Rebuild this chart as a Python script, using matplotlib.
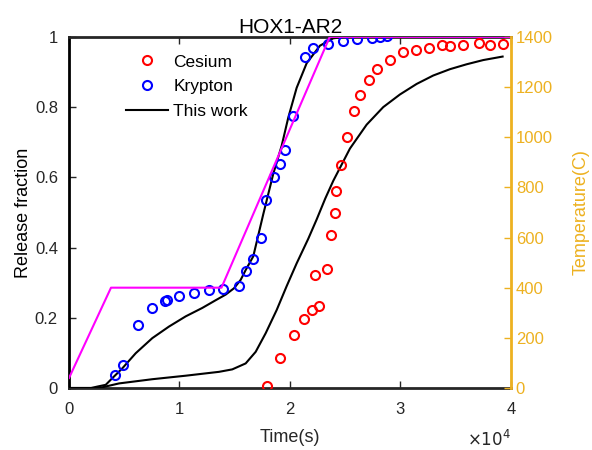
import numpy as np
import matplotlib.pyplot as plt
from matplotlib import rc

rc('font', family='Liberation Sans', size=12)

# datos
t_cs = [17891, 19122, 20362, 21240, 21964, 22597, 22235, 23321, 23756, 24118,
        24163, 24588, 25131, 25819, 26335, 27122, 27900, 29050, 30199, 31403,
        32579, 33783, 34480, 35656, 37104, 38100, 39249]
f_cs = [0.006, 0.085, 0.150, 0.197, 0.222, 0.234, 0.322, 0.338, 0.436, 0.498,
        0.562, 0.635, 0.716, 0.790, 0.835, 0.877, 0.909, 0.934, 0.956, 0.962,
        0.969, 0.976, 0.973, 0.976, 0.982, 0.978, 0.980]

t_kr = [4190, 4914, 6217, 7511, 8715, 8896, 9982, 11312, 12697, 13964,
        15385, 16018, 16679, 17348, 17801, 18525, 19122, 19575, 20299, 21357,
        22109, 23466, 24769, 26090, 27394, 28145, 28805]
f_kr = [0.038, 0.065, 0.180, 0.228, 0.247, 0.251, 0.262, 0.271, 0.279, 0.281,
        0.291, 0.332, 0.367, 0.427, 0.536, 0.602, 0.639, 0.679, 0.775, 0.942,
        0.968, 0.980, 0.989, 0.994, 0.998, 0.999, 1.003]

# modelo (this work), trazado de la figura
t_m1 = [0, 2000, 2561, 3321, 3919, 4824, 6036, 7538, 9050, 10561, 12063,
        13276, 14181, 14932, 15538, 15991, 16679, 17584, 18489, 19249, 19846,
        20606, 21511, 22715, 23919, 25000, 40000]
f_m1 = [0, 0, 0.004, 0.009, 0.028, 0.056, 0.099, 0.142, 0.175, 0.204, 0.228,
        0.250, 0.266, 0.284, 0.308, 0.336, 0.375, 0.495, 0.610, 0.690, 0.770,
        0.855, 0.925, 0.975, 0.996, 1.0, 1.0]

t_m2 = [0, 2500, 3014, 4525, 7538, 10561, 13575, 14778, 15991, 16896, 17801,
        18796, 19700, 20606, 21656, 22416, 23200, 23919, 25430, 26941, 28443,
        29955, 31466, 32968, 34480, 35991, 37493, 39249]
f_m2 = [0, 0, 0.002, 0.013, 0.025, 0.035, 0.046, 0.053, 0.070, 0.103, 0.156,
        0.222, 0.290, 0.355, 0.425, 0.480, 0.540, 0.590, 0.682, 0.750, 0.800,
        0.836, 0.866, 0.890, 0.908, 0.922, 0.934, 0.944]

t_temp = [0, 3800, 13800, 23600, 40000]
temp = [40, 400, 400, 1400, 1400]

naranja = '#EDB120'
gris = '#262626'

fig = plt.figure(figsize=(5.92, 4.5), dpi=100)
ax = fig.add_axes([0.1166, 0.1378, 0.7464, 0.7802])
ax2 = ax.twinx()

ax.plot(t_cs, f_cs, 'o', mfc='none', mec='r', ms=6.5, mew=1.5, label='Cesium', zorder=4)
ax.plot(t_kr, f_kr, 'o', mfc='none', mec='b', ms=6.5, mew=1.5, label='Krypton', zorder=4)
ax.plot(t_m1, f_m1, 'k-', lw=1.5, label='This work', zorder=3)
ax.plot(t_m2, f_m2, 'k-', lw=1.5, zorder=3)

ax2.plot(t_temp, temp, '-', color='#FF00FF', lw=1.5)
ax2.set_ylim(0, 1400)
ax2.set_yticks(np.arange(0, 1401, 200))
ax2.set_ylabel('Temperature(C)', color=naranja, fontsize=13, labelpad=14)
ax2.tick_params(axis='y', colors=naranja, direction='in', length=5, width=1)
ax2.spines['right'].set_color(naranja)
ax2.spines['right'].set_linewidth(2)
for s in ['left', 'top', 'bottom']:
  ax2.spines[s].set_visible(False)

ax.set_xlim(0, 40000)
ax.set_ylim(0, 1)
ax.set_xticks([0, 10000, 20000, 30000, 40000])
ax.set_xticklabels(['0', '1', '2', '3', '4'])
ax.set_yticks([0, 0.2, 0.4, 0.6, 0.8, 1])
ax.set_yticklabels(['0', '0.2', '0.4', '0.6', '0.8', '1'])
ax.tick_params(direction='in', length=5, width=1, colors=gris, top=True)
ax.tick_params(axis='x', pad=10)
ax.tick_params(axis='y', pad=8)
for s in ['left', 'top', 'bottom']:
  ax.spines[s].set_linewidth(2)
  ax.spines[s].set_color(gris)
ax.spines['left'].set_color('k')
ax.spines['right'].set_visible(False)
ax.set_xlabel('Time(s)', fontsize=13, color=gris, labelpad=9)
ax.set_ylabel('Release fraction', fontsize=13, color='k', labelpad=2)
ax.set_title('HOX1-AR2', fontsize=15, pad=3)
fig.text(0.863, 0.002, r'$\times10^4$', ha='right', va='bottom', color=gris, fontsize=12)

ax.legend(loc='upper left', bbox_to_anchor=(0.11, 0.975), frameon=False,
          handlelength=2.4, handletextpad=0.3, labelspacing=0.55, fontsize=12.5,
          borderpad=0)

fig.savefig('out.png', dpi=100)
